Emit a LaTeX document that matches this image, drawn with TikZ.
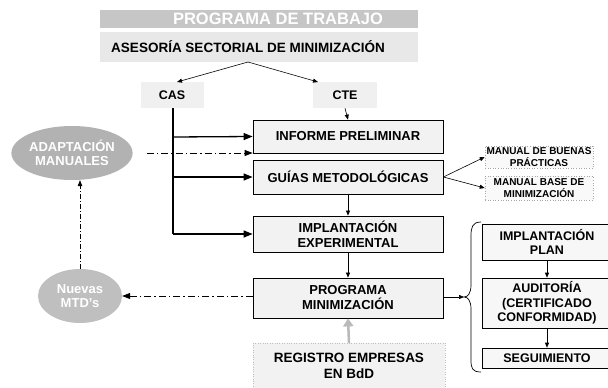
\documentclass[tikz,border=0pt]{standalone}
\usepackage{fontspec}
\setmainfont{Liberation Sans}
\usetikzlibrary{arrows.meta,shapes.geometric}
\begin{document}
\begin{tikzpicture}[x=1pt,y=-1pt,
  every node/.style={inner sep=0pt,align=center},
  mainbox/.style={draw=black,line width=0.8pt,fill=gray!10,minimum width=190pt,font=\fontsize{13}{15}\selectfont\bfseries},
  sidebox/.style={draw=black,line width=0.6pt,fill=gray!6,minimum width=130pt,font=\fontsize{12.5}{14.5}\selectfont\bfseries},
  manbox/.style={draw=gray!70,dotted,line width=0.6pt,fill=gray!5,minimum width=108pt,font=\fontsize{10}{11.5}\selectfont\bfseries},
  softbox/.style={fill=gray!12,font=\fontsize{12.5}{14}\selectfont\bfseries},
  blob/.style={ellipse,inner sep=0pt,text=white,font=\fontsize{13}{14.5}\selectfont\bfseries},
  thickarrow/.style={line width=1.3pt,-{Triangle[length=9pt,width=7pt]}},
  thinarrow/.style={line width=0.6pt,-{Triangle[length=5pt,width=4pt]}},
  dasharrow/.style={line width=0.8pt,dash pattern=on 7pt off 3pt on 1.5pt off 3pt,-{Triangle[length=8pt,width=6pt]}}
]
\clip (0,0) rectangle (608,388);
\fill[white] (0,0) rectangle (608,388);

% banners
\node[fill=gray!45,minimum width=318pt,minimum height=18pt,text=white,font=\fontsize{16.5}{17}\selectfont\bfseries] (prog) at (259,19) {\hspace*{38pt}PROGRAMA DE TRABAJO};
\node[fill=gray!18,minimum width=318pt,minimum height=30pt,font=\fontsize{13.5}{15}\selectfont\bfseries] (ase) at (259,47) {\hspace*{-22pt}ASESORÍA SECTORIAL DE MINIMIZACIÓN};
\coordinate (split) at (248,62);

% CAS / CTE
\node[softbox,minimum width=63pt,minimum height=26pt] (cas) at (172,95) {CAS};
\node[softbox,minimum width=64pt,minimum height=26pt] (cte) at (345,95) {CTE};

% main column
\node[mainbox,minimum height=33pt] (inf) at (348,136.5) {INFORME PRELIMINAR};
\node[mainbox,minimum height=34pt] (gui) at (348,177) {GUÍAS METODOLÓGICAS};
\node[mainbox,minimum height=36pt] (imp) at (348,234) {IMPLANTACIÓN\\EXPERIMENTAL};
\node[mainbox,minimum height=40pt] (pro) at (348,298) {PROGRAMA\\MINIMIZACIÓN};
\node[fill=gray!10,draw=gray!50,dotted,minimum width=192pt,minimum height=46pt,font=\fontsize{13.5}{15.5}\selectfont\bfseries] (reg) at (349,366) {REGISTRO EMPRESAS\\EN BdD};

% manuals
\node[manbox,minimum height=22pt] (man1) at (539,157) {MANUAL DE BUENAS\\PRÁCTICAS};
\node[manbox,minimum height=24pt] (man2) at (539,188) {MANUAL BASE DE\\MINIMIZACIÓN};

% right column
\node[sidebox,minimum height=36pt] (ipl) at (547,242) {IMPLANTACIÓN\\PLAN};
\node[sidebox,minimum height=50pt] (aud) at (547,303) {AUDITORÍA\\(CERTIFICADO\\CONFORMIDAD)};
\node[sidebox,minimum height=20pt] (seg) at (547,358) {SEGUIMIENTO};

% ellipses
\node[blob,fill=gray!60,minimum width=120pt,minimum height=54pt] (ada) at (72,153) {ADAPTACIÓN\\MANUALES};
\node[blob,fill=gray!50,minimum width=84pt,minimum height=54pt] (nue) at (80,296) {Nuevas\\MTD's};

% brace
\coordinate (btip) at (464,297);
\draw[line width=0.7pt] (481,222) .. controls (472,222) and (471,228) .. (471,236) -- (471,285) .. controls (471,293) and (468,297) .. (btip) .. controls (468,297) and (471,301) .. (471,309) -- (471,360) .. controls (471,368) and (472,372) .. (481,372);

% connectors from banner
\draw[thinarrow] (split) -- (177,82);
\draw[thinarrow] (split) -- (318,82);

% CAS trunk
\coordinate (trunk) at (173,234);
\draw[line width=1.3pt] (cas.south -| trunk) -- (trunk);
\draw[thickarrow] (173,137) -- (inf.west);
\draw[thickarrow] (173,177) -- (gui.west);
\draw[thickarrow] (trunk) -- (imp.west);

% thin vertical arrows
\draw[thinarrow] (cte.south) -- (inf.north);
\draw[thinarrow] (gui.south) -- (imp.north);
\draw[thinarrow] (imp.south) -- (pro.north);
\draw[thinarrow] (ipl.south) -- (aud.north);
\draw[thinarrow] (aud.south) -- (seg.north);

% manuals
\draw[thinarrow] (gui.east) -- (man1.west);
\draw[thinarrow] (gui.east) -- (man2.west);

% to brace
\draw[thinarrow] (pro.east |- btip) -- (btip);

% registro to programa
\draw[line width=2.5pt,gray!55,-{Triangle[length=8pt,width=10pt]}] (reg.north) -- (pro.south);

% dash-dot connectors
\draw[dasharrow,shorten <=14pt] (ada.east) -- (ada.east -| inf.west);
\draw[dasharrow] (pro.west |- nue.east) -- (nue.east);
\draw[line width=0.6pt,dash pattern=on 5pt off 2pt on 1pt off 2pt,-{Triangle[length=6pt,width=4.5pt]}] (nue.north) -- (nue.north |- ada.south);
\end{tikzpicture}
\end{document}
